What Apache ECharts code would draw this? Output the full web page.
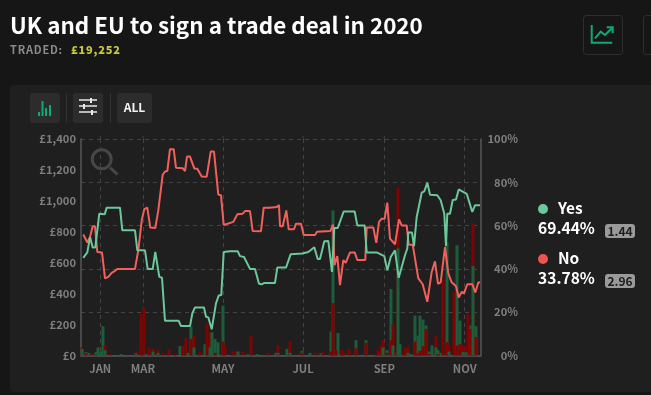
<!DOCTYPE html>
<html><head><meta charset="utf-8">
<script src="https://cdn.jsdelivr.net/npm/echarts@6/dist/echarts.min.js"></script>
<style>
html,body{margin:0;padding:0;background:#161616;overflow:hidden}
#c{position:absolute;left:0;top:0;width:651px;height:395px}
#t{position:absolute;left:10px;top:41px;font:700 11px/16px "Noto Sans CJK SC";letter-spacing:.8px;color:#8a8a8a;white-space:pre}
#t b{color:#c9c93e;margin-left:8px}
</style></head><body>
<div id="c"></div>
<div id="t">TRADED:<b>£19,252</b></div>
<script>
var tickPos = [19.3, 62, 142, 222, 303.3, 383.7];
var tickLabels = ['JAN','MAR','MAY','JUL','SEP','NOV'];
var moneyTicks = ['£0','£200','£400','£600','£800','£1,000','£1,200','£1,400'];

var yesX = [2.3,6.3,9,11.7,14.3,18.3,19.7,23.7,25.7,39,41.3,54,56.3,64,66.7,71.7,74.3,76.3,78.3,81,84,97.7,100,109,111.3,114,123,125,127.3,130.7,135,137.7,140.3,142.7,149,156.7,159,163,169,174,178,180.7,183.3,194,196.3,205,209.7,221.3,227.3,233.3,236.7,239,243.3,247.3,251,253.3,256.7,262.7,273.7,276.3,283.7,285.7,295.7,303.3,306.3,309.7,314,317.7,324,326.3,327.3,331,333,335.7,340.7,343.3,346.3,349,356.3,359.7,363.3,365,366.3,369,371.7,375,377.7,385.7,391.3,394,399];
var yesPct = [45.1,47.6,54.7,49.9,49.9,65.5,66.1,65.2,68.3,68.3,57.8,57.8,48.6,48.6,39.9,39.9,47.8,48.6,36.3,35.9,16,16,13.6,13.6,19.4,22.2,22.2,17.9,17.6,12.1,24.1,27.7,27.9,47.8,48.2,48.2,45.9,45.5,40,40,33.1,32.9,33.5,33.5,40.6,40.6,46.8,47.1,47.8,50,44.6,44.6,52.8,52.9,38.6,58.9,58.9,66.5,66.5,60.1,60.1,47.6,47.6,45.9,39.3,45.5,48.6,35.9,46.3,49.4,56.8,56.8,50.5,64,75.2,75.8,79.8,74.3,74,71.7,65.5,50.5,65.5,65.5,71.8,72.1,76.7,74.7,66.3,69.4,69.44];

var noX = [2.3,6.3,9,11.7,14,16.3,21,24,27.3,30.7,34,36.3,54,57.3,60.7,63.3,66.3,69.3,74.3,77.3,81.7,84,86.3,89,92.7,95,101.7,104,106,109,113.3,116.3,120.7,125.7,129.7,133,137.3,140,142.7,144.7,152.3,156.3,161.7,164,169,171.7,180,182.7,184.7,188.3,195.7,198,199,201.7,205.3,207.7,213,215,220,222.7,234,236,249.3,252,253.5,256.3,259,262.3,264.7,269,273.7,276.3,284.3,285.7,292.3,295.3,298,300.7,303.7,306.3,309,314,318,320.7,325.7,327.7,331.7,337.3,341.7,346.3,350.7,354,357,359.7,364,367.3,370.7,375,377.7,380.7,383,386.3,391.3,394.3,397.3,399];
var noPct = [55.9,52.2,54.7,59.7,59.7,47.8,47.6,35.6,36.3,38.2,39.1,40,40,48.6,62.4,67.6,68.3,59.1,58.9,67,83.5,85,85.2,95.3,95.3,86.7,86.5,85.2,91.9,91.9,86.4,86.3,82.7,82.6,94.2,94.2,74.3,74,60.3,61.2,61.7,65.2,65.5,66.7,66.7,57.5,57.4,68.3,67.4,68.3,68.6,69.5,59.7,59.7,67,58.3,58.3,60.9,60.9,55.7,55.7,57.2,57.5,60.5,41.7,45.9,32.5,44,42.8,47.6,47.6,44.1,44.1,59.1,59.1,52,61.7,63.2,63.2,70.6,54,51.4,62.9,60.1,60.1,51.2,51.2,35.6,32.9,24.8,38.6,43.5,33.1,33.8,50.1,37.9,33.8,32,26.8,29.4,28.7,32.9,32.9,29.1,33.7,33.78];

var volX = [1,5,8,10,15,17,20,22,24,29,40,55,60,63,65,68,72,77,82,88,94,99,102,105,107,110,113,119,124,126,129,131,134,137,142,144,152,155,157,162,167,170,176,187,195,197,206,209,221,229,235,240,242,250,252,255,257,261,263,268,275,285,295,297,300,302,306,310,312,315,317,319,322,324,327,330,334,337,339,342,345,348,351,355,357,360,362,366,368,373,376,379,382,385,387,390,392,395];
var volYes = [43,22,17,9,22,52,26,189,34,0,9,13,0,0,9,0,26,17,0,0,0,60,0,0,17,189,52,0,73,0,52,150,107,86,322,0,0,0,26,0,9,0,9,0,17,17,43,17,30,17,0,13,0,155,938,34,146,0,0,0,99,99,0,0,0,52,34,430,65,0,693,73,0,0,17,9,258,129,258,232,194,26,65,52,34,17,0,734,26,0,713,226,21,21,0,194,579,189];
var volNo = [52,13,0,9,4,0,0,0,65,9,0,26,269,310,0,52,43,34,17,43,9,0,65,116,0,107,125,22,0,206,150,0,17,0,90,60,26,26,0,26,0,125,0,17,0,65,0,90,17,0,17,0,26,26,340,34,0,39,17,43,47,82,9,34,65,99,17,99,202,22,1087,0,17,52,56,0,90,13,30,60,172,9,0,125,9,0,494,86,69,409,65,73,65,65,267,172,856,120];

var GREEN='#6cc79a', RED='#f2605c', BG='#1f1f1f', BARG='#1c5e3c', BARR='#7e0303', AX='#575757', TXT='#7f7f7f', F='"Noto Sans CJK SC"', ACC='#0fa978', BTN='#2c2c2c';
function zip(a,b){return a.map(function(v,i){return [v,b[i]];});}
var back=[],front=[];
volX.forEach(function(x,i){
  var y=volYes[i],n=volNo[i],yesTall=y>=n;
  back.push({value:[x,Math.max(y,n)],itemStyle:{color:yesTall?BARG:BARR}});
  front.push({value:[x,Math.min(y,n)],itemStyle:{color:yesTall?BARR:BARG}});
});
function rect(x,y,w,h,fill,r,stroke){return {type:'rect',silent:true,shape:{x:x,y:y,width:w,height:h,r:r||0},style:{fill:fill,stroke:stroke||null,lineWidth:stroke?1:0}};}
function txt(x,y,t,size,fill,align){return {type:'text',silent:true,x:x,y:y,style:{text:t,fill:fill,align:align||'left',verticalAlign:'middle',font:'700 '+size+'px '+F}};}
function poly(pts,c,w){return {type:'polyline',silent:true,shape:{points:pts},style:{stroke:c,lineWidth:w,fill:null,lineCap:'butt',lineJoin:'miter'}};}
function line(a,b,c,d,col,w){return {type:'line',silent:true,shape:{x1:a,y1:b,x2:c,y2:d},style:{stroke:col,lineWidth:w}};}
var under=[
  Object.assign(rect(10,85,660,307,BG,4),{z:-10}),
];
var g=[
  txt(10,25,'UK and EU to sign a trade deal in 2020',22.4,'#ffffff'),
  rect(583.5,15.5,39,39,null,3,'#2f2f2f'),
  rect(643.5,15.5,39,39,null,3,'#2f2f2f'),
  poly([[591.7,25],[591.7,42.7],[612.3,42.7]],ACC,2),
  poly([[595,38.3],[600.7,31.7],[605,35],[612.3,27.7]],ACC,2),
  poly([[606.7,27.3],[612.7,27.3],[612.7,33.3]],ACC,2),
  rect(30,93,30,30,BTN,3),
  rect(38,112,2,4,ACC),rect(41.5,101,2,15,ACC),rect(45,108,2,8,ACC),rect(49,105,2,11,ACC),
  line(66.5,93,66.5,123,'#333',1),
  rect(73,93,30,30,BTN,3),
  line(79,100,97,100,'#e8e8e8',1.5),line(79,106,97,106,'#e8e8e8',1.5),line(79,112,97,112,'#e8e8e8',1.5),
  rect(90,98,2,5,'#e8e8e8'),rect(83,104,2,5,'#e8e8e8'),rect(91,110,2,5,'#e8e8e8'),
  line(110.5,93,110.5,123,'#333',1),
  rect(117,93,35,30,BTN,3),
  txt(134.5,107.5,'ALL',12,'#f2f2f2','center'),
  {type:'circle',silent:true,shape:{cx:101.7,cy:159.3,r:9.5},style:{fill:null,stroke:'#474747',lineWidth:3}},
  line(110,167.5,117.5,174.5,'#474747',3),
  {type:'circle',silent:true,shape:{cx:543,cy:209,r:5},style:{fill:GREEN}},
  txt(558,208,'Yes',15.5,'#ffffff'),
  txt(538,228,'69.44%',15.6,'#ffffff'),
  rect(605,224,30,14,'#9a9a9a',3),
  txt(620,231,'1.44',12,'#1c1c1c','center'),
  {type:'circle',silent:true,shape:{cx:543,cy:259,r:5},style:{fill:'#f0544f'}},
  txt(558,258,'No',15.5,'#ffffff'),
  txt(538,278,'33.78%',15.6,'#ffffff'),
  rect(605,274,30,14,'#9a9a9a',3),
  txt(620,281,'2.96',12,'#1c1c1c','center')
].concat(tickPos.map(function(p){
  return {type:'line',silent:true,shape:{x1:81+p,y1:136,x2:81+p,y2:139},style:{stroke:'#444',lineWidth:1}};
}));
var chart=echarts.init(document.getElementById('c'),null,{renderer:'canvas'});
var dash={show:true,lineStyle:{color:'#444',type:[4,4],width:1}};
chart.setOption({
  animation:false,
  backgroundColor:'#161616',
  grid:{left:81,right:170,top:139,bottom:39.5,containLabel:false},
  graphic:{elements:under.concat(g)},
  xAxis:{type:'value',min:0,max:400,
    axisLine:{show:true,onZero:false,lineStyle:{color:AX,width:1.5}},
    axisTick:{show:false,customValues:tickPos},
    splitLine:dash,
    axisLabel:{customValues:tickPos,color:TXT,fontFamily:F,fontWeight:700,fontSize:11.2,margin:8,
      formatter:function(v){return tickLabels[tickPos.indexOf(v)];}}},
  yAxis:[
    {type:'value',min:0,max:1400,interval:200,position:'left',
      axisLine:{show:true,lineStyle:{color:AX,width:1.5}},axisTick:{show:false},splitLine:{show:false},
      axisLabel:{color:TXT,fontFamily:F,fontWeight:700,fontSize:11.2,margin:5,padding:[0,0,2,0],
        formatter:function(v){return moneyTicks[v/200];}}},
    {type:'value',min:0,max:100,interval:20,position:'right',
      axisLine:{show:true,lineStyle:{color:AX,width:1.5}},axisTick:{show:false},splitLine:dash,
      axisLabel:{color:TXT,fontFamily:F,fontWeight:700,fontSize:11.2,margin:37,align:'right',
        formatter:'{value}%'}}
  ],
  series:[
    {name:'Volume',type:'bar',barWidth:3,barGap:'-100%',data:back,yAxisIndex:0,z:2},
    {name:'Volume front',type:'bar',barWidth:3,barGap:'-100%',data:front,yAxisIndex:0,z:3},
    {name:'No',type:'line',data:zip(noX,noPct),yAxisIndex:1,symbol:'none',lineStyle:{color:RED,width:2},itemStyle:{color:RED},z:5},
    {name:'Yes',type:'line',data:zip(yesX,yesPct),yAxisIndex:1,symbol:'none',lineStyle:{color:GREEN,width:2},itemStyle:{color:GREEN},z:6}
  ]
});
</script>
</body></html>
